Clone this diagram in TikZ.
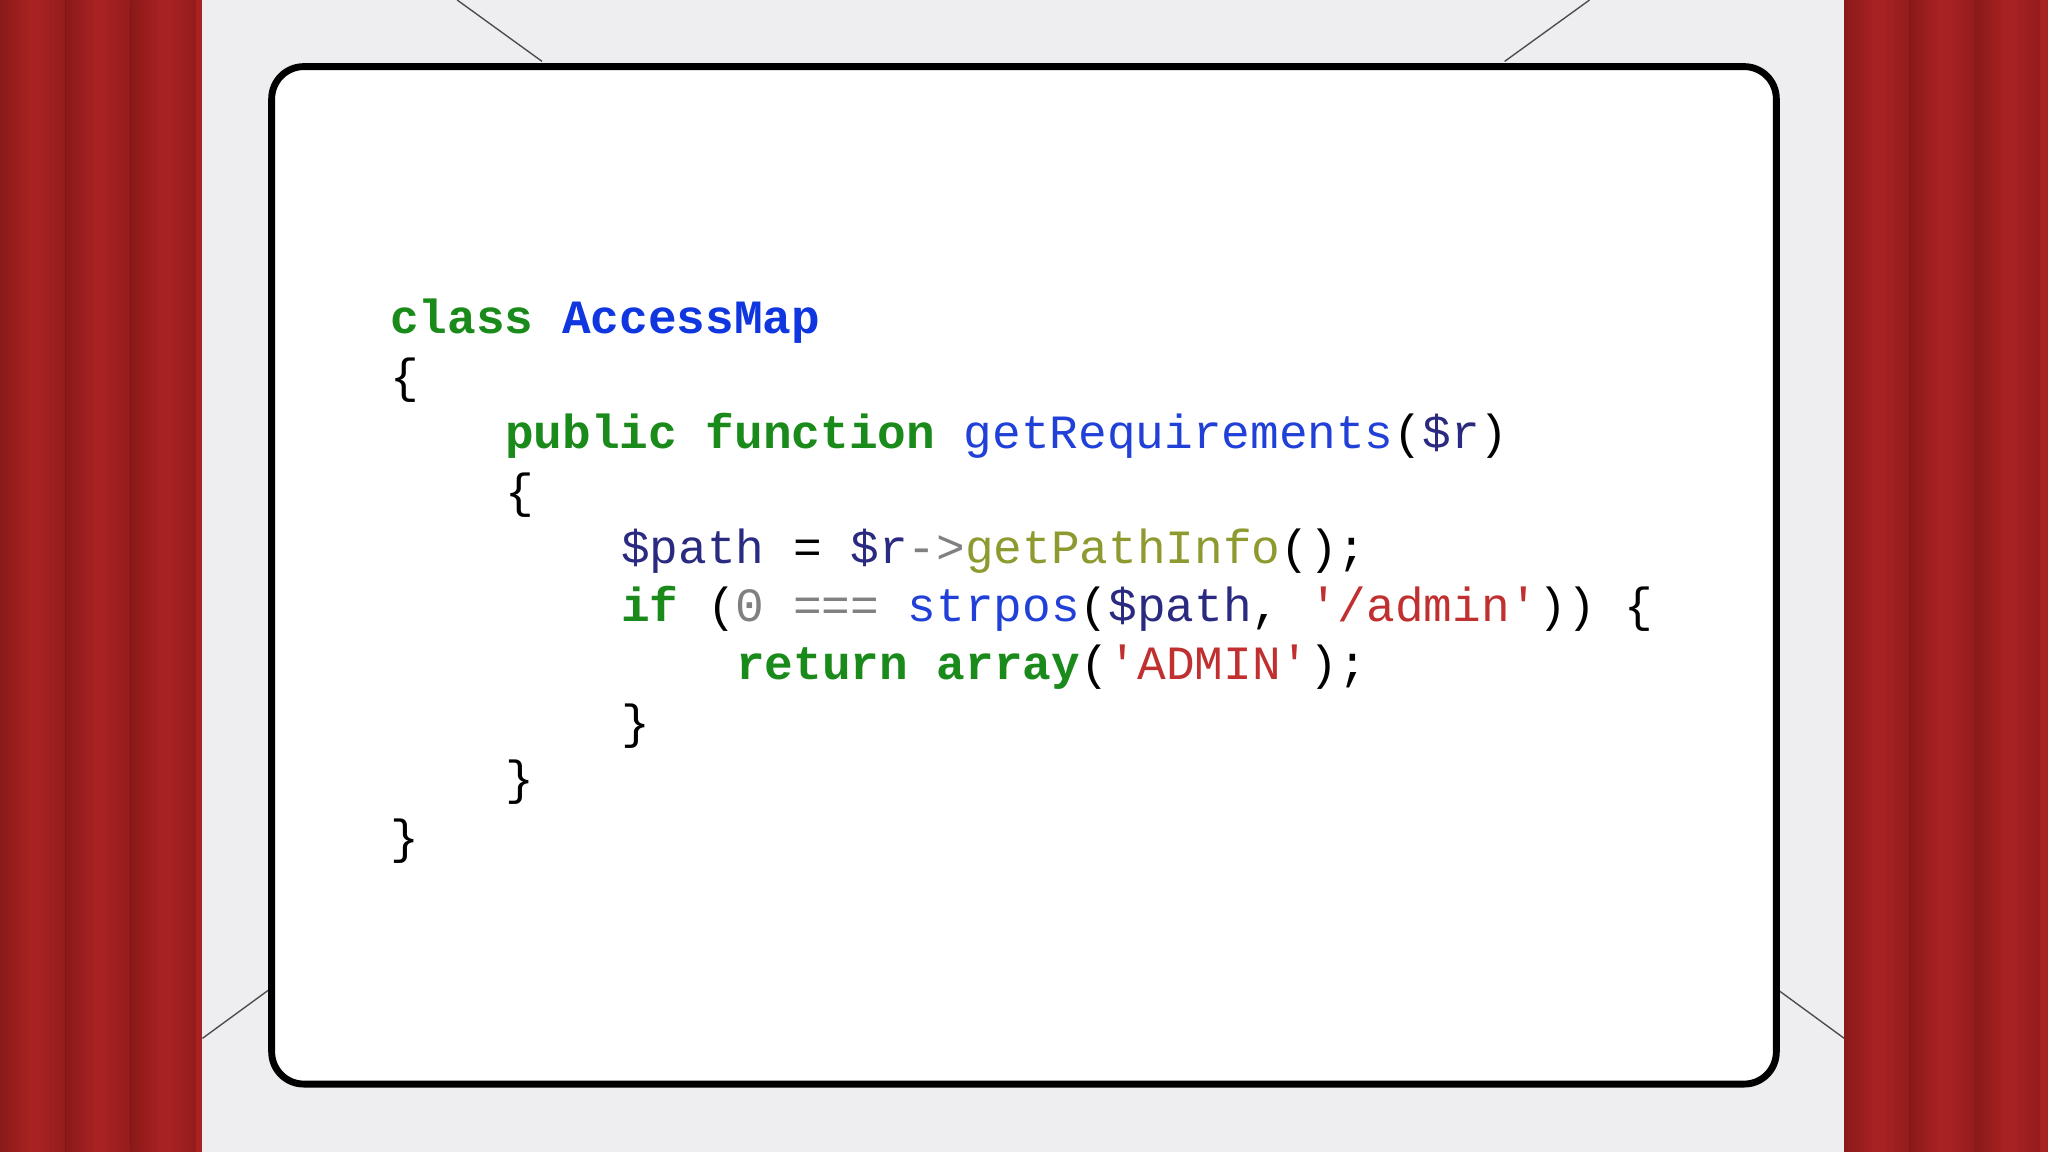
\documentclass[tikz,border=0pt]{standalone}
\usepackage{fontspec}
\newfontfamily\codefont{Liberation Mono}
\definecolor{bg}{HTML}{EEEEF0}
\definecolor{kw}{HTML}{1A8A1A}
\definecolor{cls}{HTML}{1036E0}
\definecolor{fn}{HTML}{2040D8}
\definecolor{var}{HTML}{2A2A80}
\definecolor{meth}{HTML}{8E9A30}
\definecolor{str}{HTML}{C03030}
\definecolor{num}{HTML}{808080}
\definecolor{cur}{HTML}{A82222}
\definecolor{curd}{HTML}{6E1212}
\newcommand{\K}[1]{\textcolor{kw}{\bfseries #1}}
\newcommand{\V}[1]{\textcolor{var}{#1}}
\newcommand{\Sx}[1]{\textcolor{str}{#1}}
\begin{document}
\begin{tikzpicture}[x=0.01cm,y=-0.01cm,
  codeline/.style={anchor=west,inner sep=0pt,font=\codefont\fontsize{10.4}{12}\selectfont,text height=8pt,text depth=2pt},
  guide/.style={draw=black!70,line width=0.3pt}]
\useasboundingbox (0,0) rectangle (1568,882);
\fill[bg] (0,0) rectangle (1568,882);
% curtains
\foreach \xo/\w in {0/155,1412/156}{
  \fill[cur] (\xo,0) rectangle ++(\w,882);
  \foreach \s in {0,50,100}{
    \shade[left color=curd,right color=cur,opacity=0.5] (\xo+\s,0) rectangle ++(22,882);
    \shade[left color=cur,right color=curd,opacity=0.35] (\xo+\s+30,0) rectangle ++(20,882);
  }
}
% guide lines
\coordinate (g1a) at (350,0); \coordinate (g1b) at (415,47);
\coordinate (g2a) at (1217,0); \coordinate (g2b) at (1152,47);
\coordinate (g3a) at (155,795); \coordinate (g3b) at (207,757);
\coordinate (g4a) at (1412,795); \coordinate (g4b) at (1360,757);
\draw[guide] (g1a)--(g1b); \draw[guide] (g2a)--(g2b);
\draw[guide] (g3a)--(g3b); \draw[guide] (g4a)--(g4b);
% card
\draw[line width=1.5pt,fill=white,rounded corners=7pt] (208,51) rectangle (1360,830);
% code
\node[codeline] (l1) at (298,245) {\K{class} \textcolor{cls}{\bfseries AccessMap}};
\node[codeline] (l2) at (298,290) {\{};
\node[codeline] (l3) at (386,333) {\K{public} \K{function} \textcolor{fn}{getRequirements}(\V{\$r})};
\node[codeline] (l4) at (386,378) {\{};
\node[codeline] (l5) at (475,421) {\V{\$path} = \V{\$r}\textcolor{num}{->}\textcolor{meth}{getPathInfo}();};
\node[codeline] (l6) at (475,465) {\K{if} (\textcolor{num}{0 ===} \textcolor{fn}{strpos}(\V{\$path}, \Sx{'/admin'})) \{};
\node[codeline] (l7) at (563,510) {\K{return} \K{array}(\Sx{'ADMIN'});};
\node[codeline] (l8) at (475,555) {\}};
\node[codeline] (l9) at (386,598) {\}};
\node[codeline] (l10) at (298,643) {\}};
\end{tikzpicture}
\end{document}
